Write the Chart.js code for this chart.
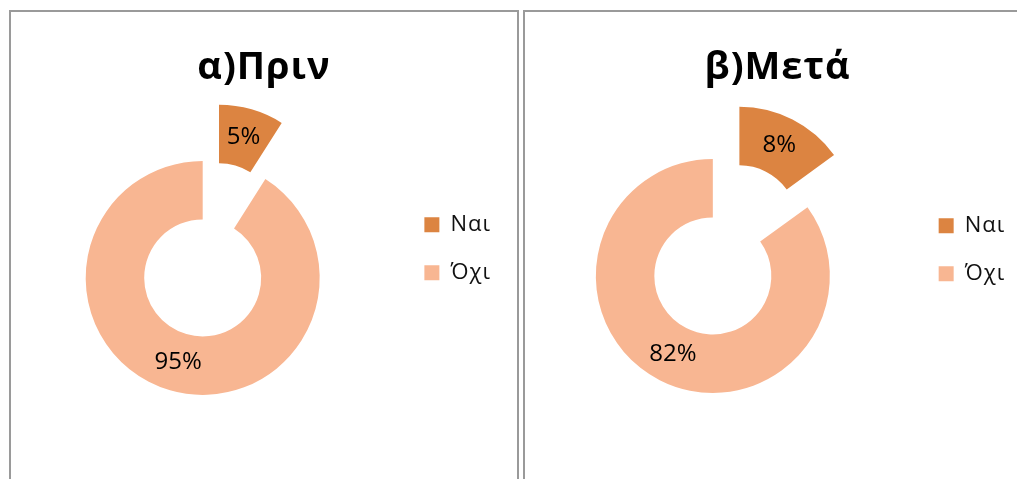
<!DOCTYPE html>
<html>
<head>
<meta charset="utf-8">
<script src="https://cdn.jsdelivr.net/npm/chart.js@4/dist/chart.umd.min.js"></script>
<style>
  html, body { margin: 0; padding: 0; background: #fff; overflow: hidden; }
  body { width: 1017px; height: 479px; position: relative; }
  .panel { position: absolute; top: 10px; width: 506px; height: 480px; border: 2px solid #9a9a9a; border-bottom: none; background: #fff; }
  #p1 { left: 9px; }
  #p2 { left: 523px; }
  canvas { position: absolute; }
  #c1 { left: 7px; top: 32px; }
  #c2 { left: 513px; top: 38px; }
</style>
</head>
<body>
<div class="panel" id="p1"></div>
<div class="panel" id="p2"></div>
<canvas id="c1" width="514" height="447"></canvas>
<canvas id="c2" width="529" height="441"></canvas>
<script>
// ---- data ----
const categories = ['Ναι', 'Όχι'];
const titleBefore = 'α)Πριν';
const titleAfter = 'β)Μετά';
// slice sizes as drawn (angular share of the ring)
const valuesBefore = [9, 91];
const valuesAfter = [15, 85];
// data label texts as printed on the slices
const labelsBefore = ['5%', '95%'];
const labelsAfter = ['8%', '82%'];
const colors = ['#DC8441', '#F8B692'];

// explode the first slice along its bisector (like Excel's point explosion)
const explodePlugin = {
  id: 'explodeFirst',
  afterDatasetsUpdate(chart, args, opts) {
    const meta = chart.getDatasetMeta(0);
    const arc = meta.data[0];
    if (!arc) return;
    const mid = (arc.startAngle + arc.endAngle) / 2;
    arc.x += Math.cos(mid) * opts.distance;
    arc.y += Math.sin(mid) * opts.distance;
  }
};

// slightly wider letter spacing for title / legend (Calibri-like widths)
const spacingPlugin = {
  id: 'textSpacing',
  beforeLayout(chart, args, opts) { chart.ctx.letterSpacing = opts.spacing; },
  beforeDraw(chart, args, opts) { chart.ctx.letterSpacing = opts.spacing; },
  beforeDatasetsDraw(chart) { chart.ctx.letterSpacing = '0px'; }
};

const dataLabelPlugin = {
  id: 'sliceLabels',
  afterDatasetsDraw(chart, args, opts) {
    const ctx = chart.ctx;
    const meta = chart.getDatasetMeta(0);
    ctx.save();
    ctx.letterSpacing = '0px';
    ctx.font = opts.font;
    ctx.fillStyle = opts.color;
    ctx.textAlign = 'center';
    ctx.textBaseline = 'middle';
    meta.data.forEach((arc, i) => {
      const p = arc.tooltipPosition();
      ctx.fillText(opts.texts[i], p.x, p.y);
    });
    ctx.restore();
  }
};

function makeChart(id, title, values, texts, lay) {
  return new Chart(document.getElementById(id), {
    type: 'doughnut',
    data: {
      labels: categories,
      datasets: [{
        data: values,
        backgroundColor: colors,
        borderWidth: 0,
        hoverOffset: 0,
        clip: false
      }]
    },
    options: {
      responsive: false,
      animation: false,
      events: [],
      radius: 117,
      cutout: '50%',
      layout: { padding: { left: 0, right: 0, top: 0, bottom: lay.bottom } },
      plugins: {
        title: {
          display: true,
          text: title,
          color: '#000',
          font: { family: 'Open Sans', size: 38, weight: 'bold', lineHeight: 1.137 },
          padding: { top: lay.titleTop, bottom: 0 }
        },
        legend: {
          position: 'right',
          align: 'center',
          labels: {
            boxWidth: 15,
            boxHeight: 15,
            padding: 26,
            color: '#111',
            font: { family: 'Open Sans', size: 22 },
            generateLabels(chart) {
              const items = Chart.overrides.doughnut.plugins.legend.labels.generateLabels(chart);
              items.forEach(it => { it.text = it.text + '\u00A0'.repeat(lay.pad); });
              return items;
            }
          }
        },
        tooltip: { enabled: false },
        explodeFirst: { distance: 58.5 },
        textSpacing: { spacing: '1px' },
        sliceLabels: { texts: texts, font: '24px "Open Sans"', color: '#000' }
      }
    },
    plugins: [spacingPlugin, explodePlugin, dataLabelPlugin]
  });
}

makeChart('c1', titleBefore, valuesBefore, labelsBefore, { titleTop: 15, bottom: 13.4, pad: 3 });
makeChart('c2', titleAfter, valuesAfter, labelsAfter, { titleTop: 9, bottom: 17.4, pad: 4 });
</script>
</body>
</html>
